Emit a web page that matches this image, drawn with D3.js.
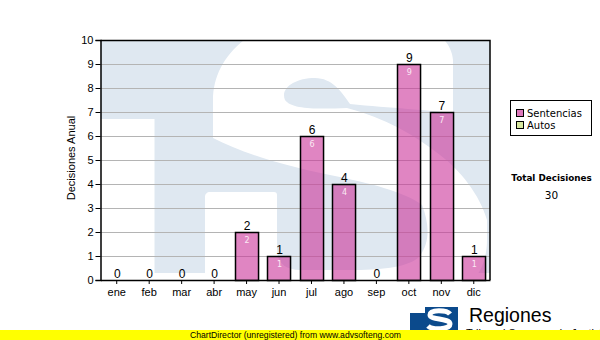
<!DOCTYPE html>
<html>
<head>
<meta charset="utf-8">
<script src="https://cdn.jsdelivr.net/npm/d3@7"></script>
<style>
html,body{margin:0;padding:0;background:#fff;}
svg{display:block;}
</style>
</head>
<body>
<svg id="chart" width="600" height="340"></svg>
<script>
const months = ["ene","feb","mar","abr","may","jun","jul","ago","sep","oct","nov","dic"];
const sentencias = [0,0,0,0,2,1,6,4,0,9,7,1];
const autos = [0,0,0,0,0,0,0,0,0,0,0,0];
const yTicks = [0,1,2,3,4,5,6,7,8,9,10];
const legendLabels = ["Sentencias","Autos"];
const totalLabel = "Total Decisiones";
const total = d3.sum(sentencias) + d3.sum(autos);

const svg = d3.select("#chart");
const L = 100.5, R = 490, T = 40, B = 280;

const x = d3.scaleBand().domain(months).range([L, R]).paddingInner(0.29).paddingOuter(0.145);
const y = d3.scaleLinear().domain([0, 10]).range([B, T]);

// plot background with watermark (TS logo)
const defs = svg.append("defs");
defs.append("clipPath").attr("id","plotclip").append("rect")
  .attr("x", L).attr("y", T).attr("width", R - L).attr("height", B - T);
const wm = svg.append("g").attr("clip-path","url(#plotclip)");
wm.append("rect").attr("x", L).attr("y", T).attr("width", R - L).attr("height", B - T).attr("fill", "#dfe8f1");
wm.append("rect").attr("x", L).attr("y", 119).attr("width", 54).attr("height", B - 119).attr("fill", "#fff");
wm.append("rect").attr("x", L).attr("y", 273).attr("width", R - L).attr("height", 10).attr("fill", "#fff");
wm.append("path")
  .attr("d", "M453,113 L453,60 C450,25 400,14 335,14 C255,14 213,55 213,100 L213,138 C240,152 280,165 330,175 C370,183 405,192 422,205 C430,225 430,245 418,258 C405,268 380,270 350,270 L300,270 C285,270 277,262 277,250 L277,195 C277,193 276,192 274,192 L210,192 C207,192 205,194 205,197 L205,300 L420,300 C470,300 487,270 487,240 L487,220 C480,195 460,170 440,155 C415,135 385,118 347,108 C320,109 292,110 285,100 C280,88 295,78 315,78 C332,78 342,92 350,104 C390,108 430,110 453,113 Z")
  .attr("fill","#fff");

// grid lines
svg.append("g").selectAll("line").data(yTicks.filter(t => t > 0 && t < 10)).join("line")
  .attr("x1", L).attr("x2", R).attr("y1", d => Math.round(y(d)) + 0.5).attr("y2", d => Math.round(y(d)) + 0.5)
  .attr("stroke", "#b4b4b4").attr("stroke-width", 1);

// bars
svg.append("g").selectAll("rect").data(months).join("rect")
  .attr("x", d => Math.round(x(d)) + 0.5)
  .attr("y", (d,i) => y(sentencias[i]) + 0.5)
  .attr("width", x.bandwidth())
  .attr("height", (d,i) => y(0) - y(sentencias[i]))
  .attr("fill", "rgba(204,51,153,0.6)")
  .attr("stroke", "#000").attr("stroke-width", 1.5)
  .attr("display", (d,i) => sentencias[i] > 0 ? null : "none");

// value labels
svg.append("g").selectAll("text").data(months).join("text")
  .attr("x", d => x(d) + x.bandwidth()/2 + 0.5)
  .attr("y", (d,i) => y(sentencias[i]) - 2)
  .attr("text-anchor","middle").attr("font-family","Liberation Sans, Arial").attr("font-size", 12)
  .attr("fill","#000").text((d,i) => sentencias[i]);
svg.append("g").selectAll("text").data(months.filter((d,i) => sentencias[i] > 0)).join("text")
  .attr("x", d => x(d) + x.bandwidth()/2 + 0.5)
  .attr("y", d => y(sentencias[months.indexOf(d)]) + 11)
  .attr("text-anchor","middle").attr("font-family","DejaVu Sans").attr("font-size", 8)
  .attr("fill","#fbeaf4").text(d => sentencias[months.indexOf(d)]);

// frame: top and right
svg.append("path").attr("d", `M${L},${T+0.5}H${R}V${B}`).attr("fill","none").attr("stroke","#000").attr("stroke-width",1.5);

// axes
const yAxis = d3.axisLeft(y).tickValues(yTicks).tickSize(5).tickPadding(2).tickFormat(d3.format("d"));
const gy = svg.append("g").attr("transform", `translate(${L},0)`).call(yAxis);
gy.select(".domain").attr("stroke","#000").attr("stroke-width",1.5);
gy.selectAll(".tick line").attr("stroke","#000");
gy.selectAll(".tick text").attr("font-family","Liberation Sans, Arial").attr("font-size", 11).attr("fill","#000");

const xAxis = d3.axisBottom(x).tickSize(4).tickPadding(4).tickSizeOuter(0);
const gx = svg.append("g").attr("transform", `translate(0,${B})`).call(xAxis);
gx.select(".domain").attr("stroke","#000").attr("stroke-width",1.5);
gx.selectAll(".tick line").attr("stroke","#000");
gx.selectAll(".tick text").attr("font-family","Liberation Sans, Arial").attr("font-size", 11).attr("fill","#000");

// y title
svg.append("text").attr("transform","translate(75,158) rotate(-90)")
  .attr("text-anchor","middle").attr("font-family","Liberation Sans, Arial").attr("font-size", 11)
  .attr("fill","#000").text("Decisiones Anual");

// legend
const lg = svg.append("g");
lg.append("rect").attr("x", 510.5).attr("y", 100.5).attr("width", 81).attr("height", 35)
  .attr("fill","#fff").attr("stroke","#000");
const swatchColors = ["#dd77bb", "#d8e8a0"];
legendLabels.forEach((t, i) => {
  lg.append("rect").attr("x", 516.5).attr("y", 109.5 + i*12).attr("width", 7).attr("height", 7)
    .attr("fill", swatchColors[i]).attr("stroke","#000");
  lg.append("text").attr("x", 527).attr("y", 117 + i*12).attr("font-family","DejaVu Sans")
    .attr("font-size", 10).attr("fill","#000").text(t);
});

svg.append("text").attr("x", 551.5).attr("y", 181).attr("text-anchor","middle")
  .attr("font-family","DejaVu Sans").attr("font-weight","bold").attr("font-size", 8.8)
  .attr("fill","#000").text(totalLabel);
svg.append("text").attr("x", 551.5).attr("y", 199).attr("text-anchor","middle")
  .attr("font-family","DejaVu Sans").attr("font-size", 10.5)
  .attr("fill","#000").text(total);

// logo
const logo = svg.append("g");
logo.append("path").attr("d","M410,313H425V307H458V330H410Z").attr("fill","#0b4a8c");
logo.append("path")
  .attr("d","M450,314 C447,310 430,309 430,315 C430,320 450,318 450,324 C450,330 432,330 428,326")
  .attr("fill","none").attr("stroke","#fff").attr("stroke-width",5);
logo.append("text").attr("x", 469).attr("y", 322).attr("font-family","Liberation Sans, Arial")
  .attr("font-size", 19.5).attr("fill","#000").text("Regiones");
logo.append("text").attr("x", 466).attr("y", 337).attr("font-family","Liberation Sans, Arial")
  .attr("font-size", 11).attr("fill","#000").text("Tribunal Supremo de Justicia");

// yellow banner
svg.append("rect").attr("x", 0).attr("y", 330).attr("width", 600).attr("height", 10).attr("fill","#ffff00");
svg.append("text").attr("x", 190).attr("y", 338).attr("font-family","Liberation Sans, Arial")
  .attr("font-size", 9.5).attr("textLength", 211).attr("lengthAdjust","spacingAndGlyphs")
  .attr("fill","#000").text("ChartDirector (unregistered) from www.advsofteng.com");
</script>
</body>
</html>
